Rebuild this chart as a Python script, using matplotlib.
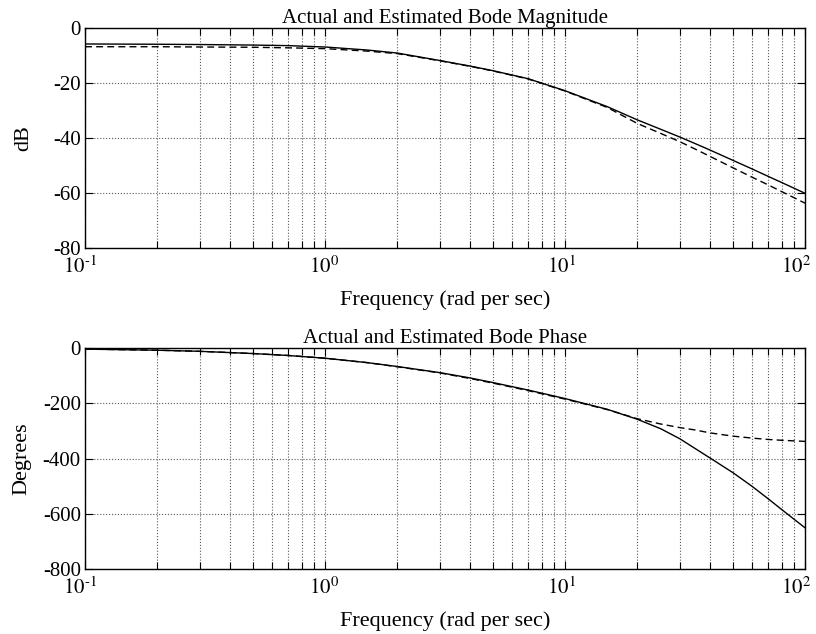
import numpy as np
import matplotlib
matplotlib.use("Agg")
import matplotlib.pyplot as plt
from matplotlib.ticker import LogLocator, NullFormatter, FixedLocator, FixedFormatter
from matplotlib.transforms import ScaledTranslation

plt.rcParams['font.family'] = ['Liberation Serif', 'DejaVu Serif']
plt.rcParams['mathtext.fontset'] = 'stix'
plt.rcParams['axes.unicode_minus'] = False

# frequencies (rad/s)
freq = [0.1, 0.2, 0.3, 0.5, 0.7, 1, 1.5, 2, 3, 4, 5, 7, 10, 15, 20, 25,
        30, 35, 40, 50, 60, 70, 80, 100]

# magnitude (dB)
mag_actual = [-5.8, -5.9, -6.0, -6.2, -6.4, -6.9, -8.0, -9.1, -11.8, -13.8,
              -15.5, -18.4, -22.8, -28.6, -33.4, -36.8, -39.6, -42.1, -44.3,
              -48.1, -51.2, -53.9, -56.2, -60.1]
mag_est = [-6.8, -6.8, -6.9, -7.0, -7.2, -7.5, -8.4, -9.3, -11.9, -13.9,
           -15.6, -18.5, -22.9, -28.9, -34.7, -38.3, -41.3, -44.1, -46.6,
           -50.8, -54.2, -57.0, -59.5, -63.7]

# phase (deg)
ph_actual = [-4, -8, -12, -20, -27, -37, -53, -67, -89, -108, -125, -152,
             -183, -222, -258, -292, -328, -365, -397, -451, -500, -545,
             -585, -651]
ph_est = [-4, -8, -12, -20, -27, -37, -53, -68, -90, -110, -127, -154,
          -185, -223, -256, -275, -288, -297, -307, -319, -326, -331,
          -334, -338]

xticks = [0.1, 1, 10, 100]
xtick_labels = [r'$10^{\text{-}1}$', r'$10^{0}$', r'$10^{1}$', r'$10^{2}$']
xtick_shift = [-5, -1, -4, -9]   # pixels, labels sit a bit left in the original

fig = plt.figure(figsize=(8.16, 6.34), dpi=100)
ax0 = fig.add_axes([0.1042, 0.6088, 0.8824, 0.347])
ax1 = fig.add_axes([0.1042, 0.1025, 0.8824, 0.3486])


def style(ax, ylim, yticks):
    ax.set_xscale('log')
    ax.set_xlim(0.1, 100)
    ax.set_ylim(*ylim)
    ax.yaxis.set_major_locator(FixedLocator(yticks))
    ax.xaxis.set_major_locator(FixedLocator(xticks))
    ax.xaxis.set_major_formatter(FixedFormatter(xtick_labels))
    ax.xaxis.set_minor_locator(LogLocator(base=10, subs=np.arange(2, 10), numticks=10))
    ax.xaxis.set_minor_formatter(NullFormatter())
    ax.grid(True, which='major', linestyle=':', color='0.35', linewidth=0.8)
    ax.grid(True, which='minor', axis='x', linestyle=':', color='0.35', linewidth=0.8)
    ax.tick_params(which='both', direction='in', top=True, right=True,
                   labelsize=15, width=0.8, color='black')
    ax.tick_params(which='major', length=6)
    ax.tick_params(which='minor', length=5)
    ax.tick_params(axis='x', which='major', pad=6)
    ax.tick_params(axis='y', which='major', pad=3)
    for s in ax.spines.values():
        s.set_linewidth(1.0)
    ax.set_xlabel('Frequency (rad per sec)', fontsize=16, labelpad=9)


ax0.plot(freq, mag_actual, '-', color='black', linewidth=1.0)
ax0.plot(freq, mag_est, '--', color='black', linewidth=1.0, dashes=(5, 3))
style(ax0, (-80, 0), [-80, -60, -40, -20, 0])
ax0.set_ylabel('dB', fontsize=16, labelpad=14)
ax0.set_title('Actual and Estimated Bode Magnitude', fontsize=15, pad=2)

ax1.plot(freq, ph_actual, '-', color='black', linewidth=1.0)
ax1.plot(freq, ph_est, '--', color='black', linewidth=1.0, dashes=(5, 3))
style(ax1, (-800, 0), [-800, -600, -400, -200, 0])
ax1.set_ylabel('Degrees', fontsize=16, labelpad=8)
ax1.set_title('Actual and Estimated Bode Phase', fontsize=15, pad=2)

fig.canvas.draw()
for ax in (ax0, ax1):
    for lab, dx in zip(ax.get_xticklabels(), xtick_shift):
        lab.set_transform(lab.get_transform() + ScaledTranslation(dx / 100, 0, fig.dpi_scale_trans))

plt.savefig('out.png', dpi=100)
plt.close()
